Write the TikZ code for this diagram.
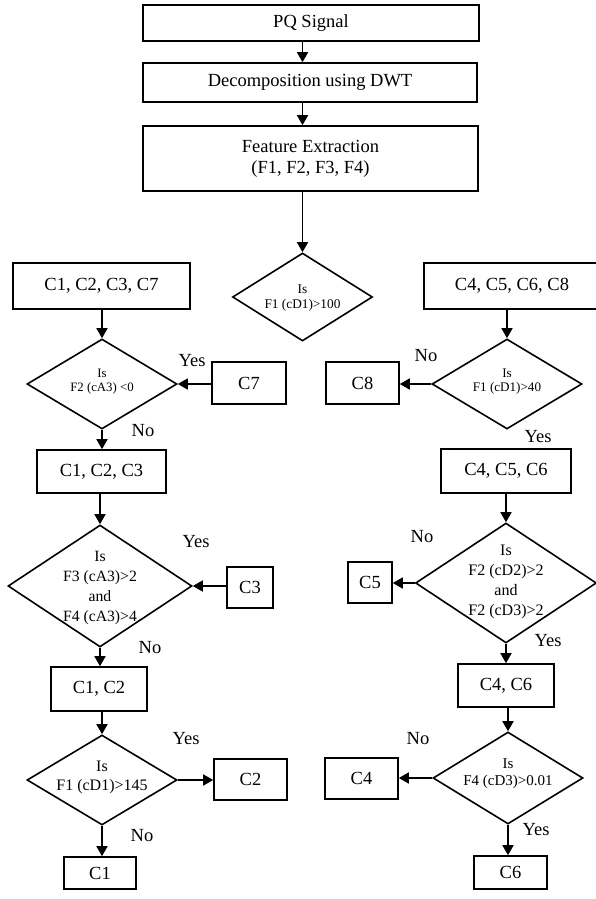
\documentclass[tikz,border=0pt]{standalone}
\usepackage{fontspec}
\setmainfont{Liberation Serif}
\usetikzlibrary{shapes.geometric,arrows.meta,calc}
\tikzset{
  box/.style={draw, line width=1.6pt, inner sep=0pt, align=center, font=\fontsize{18.5}{21}\selectfont},
  dia/.style={draw, diamond, line width=1.6pt, inner sep=0pt},
  dtxt/.style={inner sep=0pt, align=center},
  lab/.style={inner sep=0pt, font=\fontsize{18.5}{21}\selectfont},
  arr/.style={line width=1.6pt, -{Triangle[length=10pt,width=11pt]}}
}
\begin{document}
\begin{tikzpicture}[x=1pt,y=-1pt]
\useasboundingbox (0,0) rectangle (596,899);
\clip (0,0) rectangle (596,899);
% top chain
\node[box, minimum width=336pt, minimum height=36pt] (pq) at (311,23) {PQ Signal};
\node[box, minimum width=334pt, minimum height=39pt] (dwt) at (310,82.5) {Decomposition using DWT};
\node[box, minimum width=335pt, minimum height=65pt] (fe) at (310.5,158.5) {Feature Extraction\\(F1, F2, F3, F4)};
\node[dia, minimum width=140pt, minimum height=88pt] (cd) at (302.5,297) {};
\node[dtxt, font=\fontsize{13.3}{15}\selectfont] (cdt) at (302.5,298) {Is\\F1 (cD1)>100};
% left column
\node[box, minimum width=177pt, minimum height=46pt] (b1) at (101.5,286) {C1, C2, C3, C7};
\node[dia, minimum width=150pt, minimum height=90pt] (d1) at (102,384) {};
\node[dtxt, font=\fontsize{12.8}{14}\selectfont] (d1t) at (102,382) {Is\\F2 (cA3) <0};
\node[box, minimum width=74pt, minimum height=42pt] (c7) at (249,383) {C7};
\node[box, minimum width=129pt, minimum height=43pt] (b2) at (101.5,471.5) {C1, C2, C3};
\node[dia, minimum width=184pt, minimum height=122pt] (d2) at (100,586) {};
\node[dtxt, font=\fontsize{15.7}{20}\selectfont] (d2t) at (100,588) {Is\\F3 (cA3)>2\\and\\F4 (cA3)>4};
\node[box, minimum width=46pt, minimum height=41pt] (c3) at (250,587.5) {C3};
\node[box, minimum width=96pt, minimum height=44pt] (b3) at (99,689) {C1, C2};
\node[dia, minimum width=150pt, minimum height=90pt] (d3) at (102,780) {};
\node[dtxt, font=\fontsize{16}{19}\selectfont] (d3t) at (102,777) {Is\\F1 (cD1)>145};
\node[box, minimum width=73pt, minimum height=41pt] (c2) at (250.5,779.5) {C2};
\node[box, minimum width=72pt, minimum height=32pt] (c1) at (100,873) {C1};
% right column
\node[box, minimum width=176pt, minimum height=46pt] (r0) at (512,286) {C4, C5, C6, C8};
\node[dia, minimum width=150pt, minimum height=90pt] (r1) at (507,384) {};
\node[dtxt, font=\fontsize{13.1}{14}\selectfont] (r1t) at (507,382) {Is\\F1 (cD1)>40};
\node[box, minimum width=73pt, minimum height=42pt] (c8) at (362.5,383) {C8};
\node[box, minimum width=130pt, minimum height=44pt] (r2b) at (506,471) {C4, C5, C6};
\node[dia, minimum width=181pt, minimum height=120pt] (r2) at (506,583) {};
\node[dtxt, font=\fontsize{16}{20}\selectfont] (r2t) at (506,582) {Is\\F2 (cD2)>2\\and\\F2 (cD3)>2};
\node[box, minimum width=44pt, minimum height=41pt] (c5) at (370,582.5) {C5};
\node[box, minimum width=96pt, minimum height=43pt] (r3b) at (506,685.5) {C4, C6};
\node[dia, minimum width=150pt, minimum height=92pt] (r3) at (508,778) {};
\node[dtxt, font=\fontsize{15}{17}\selectfont] (r3t) at (508,774) {Is\\F4 (cD3)>0.01};
\node[box, minimum width=73pt, minimum height=41pt] (c4) at (361.5,778.5) {C4};
\node[box, minimum width=73pt, minimum height=33pt] (c6) at (510.5,872.5) {C6};
% labels
\node[lab] (y1) at (192,361) {Yes};
\node[lab] (n1) at (143,431) {No};
\node[lab] (y2) at (196,542) {Yes};
\node[lab] (n2) at (150,648) {No};
\node[lab] (y3) at (186,739) {Yes};
\node[lab] (n3) at (142,836) {No};
\node[lab] (n4) at (426,356) {No};
\node[lab] (y4) at (538,437) {Yes};
\node[lab] (n5) at (422,537) {No};
\node[lab] (y5) at (548,641) {Yes};
\node[lab] (n6) at (418,739) {No};
\node[lab] (y6) at (536,830) {Yes};
% connectors
\draw[arr] (pq.south -| cd.north) -- (dwt.north -| cd.north);
\draw[arr] (dwt.south -| cd.north) -- (fe.north -| cd.north);
\draw[arr] (fe.south -| cd.north) -- (cd.north);
\draw[arr] (b1.south -| d1.north) -- (d1.north);
\draw[arr] (c7.west |- d1.east) -- (d1.east);
\draw[arr] (d1.south) -- (b2.north -| d1.south);
\draw[arr] (b2.south -| d2.north) -- (d2.north);
\draw[arr] (c3.west |- d2.east) -- (d2.east);
\draw[arr] (d2.south) -- (b3.north -| d2.south);
\draw[arr] (b3.south -| d3.north) -- (d3.north);
\draw[arr] (d3.east) -- (c2.west |- d3.east);
\draw[arr] (d3.south) -- (c1.north -| d3.south);
\draw[arr] (r0.south -| r1.north) -- (r1.north);
\draw[arr] (r1.west) -- (c8.east |- r1.west);
\draw[arr] (r2b.south -| r2.north) -- (r2.north);
\draw[arr] (r2.west) -- (c5.east |- r2.west);
\draw[arr] (r2.south) -- (r3b.north -| r2.south);
\draw[arr] (r3b.south -| r3.north) -- (r3.north);
\draw[arr] (r3.west) -- (c4.east |- r3.west);
\draw[arr] (r3.south) -- (c6.north -| r3.south);
\end{tikzpicture}
\end{document}
